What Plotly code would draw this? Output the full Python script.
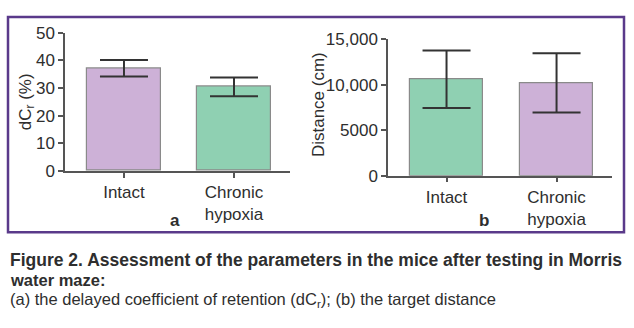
import plotly.graph_objects as go

W, H = 634, 328

categories = ["Intact", "Chronic<br>hypoxia"]
dcr_values = [37.1, 30.4]
dcr_errors = [3.0, 3.4]
dist_values = [10600, 10200]
dist_errors = [3150, 3250]

purple = "#cdb1d7"
green = "#8fd0b2"
font = "Liberation Sans, Arial, sans-serif"
txt = "#2e2e2e"

def px_x(p):
    return p / W

def px_y(p):
    return 1 - p / H

fig = go.Figure()

fig.add_trace(go.Bar(
    x=categories, y=dcr_values, xaxis="x", yaxis="y",
    marker=dict(color=[purple, green], line=dict(color="#8a8a8a", width=1.2)),
    width=0.673,
    error_y=dict(type="data", array=dcr_errors, color="#333333", thickness=2, width=24),
    showlegend=False,
))
fig.add_trace(go.Bar(
    x=categories, y=dist_values, xaxis="x2", yaxis="y2",
    marker=dict(color=[green, purple], line=dict(color="#8a8a8a", width=1.2)),
    width=0.664,
    error_y=dict(type="data", array=dist_errors, color="#333333", thickness=2, width=24),
    showlegend=False,
))

axis_common = dict(
    showgrid=False, zeroline=False, showline=True, linecolor="#555555", linewidth=1.5,
    ticks="outside", ticklen=5, tickwidth=1.5, tickcolor="#555555",
    tickfont=dict(family=font, size=17, color=txt),
)

fig.update_layout(
    width=W, height=H,
    margin=dict(l=0, r=0, t=0, b=0),
    paper_bgcolor="white", plot_bgcolor="white",
    bargap=0,
    xaxis=dict(domain=[px_x(65), px_x(290)], range=[-0.536, 1.509], anchor="y", **axis_common),
    yaxis=dict(domain=[px_y(172), px_y(25)], range=[0, 50], dtick=10, anchor="x", **axis_common),
    xaxis2=dict(domain=[px_x(388), px_x(612)], range=[-0.532, 1.504], anchor="y2", **axis_common),
    yaxis2=dict(domain=[px_y(177), px_y(32)], range=[0, 15000], anchor="x2",
                tickvals=[0, 5000, 10000, 15000], ticktext=["0", "5000", "10,000", "15,000"],
                **axis_common),
)

ann = []
ann.append(dict(text="dC<sub>r</sub> (%)", x=px_x(27), y=px_y(99), textangle=-90,
                font=dict(family=font, size=17, color=txt)))
ann.append(dict(text="Distance (cm)", x=px_x(318), y=px_y(102), textangle=-90,
                font=dict(family=font, size=17, color=txt)))
ann.append(dict(text="<b>a</b>", x=px_x(175), y=px_y(225),
                font=dict(family=font, size=17, color=txt)))
ann.append(dict(text="<b>b</b>", x=px_x(484), y=px_y(225),
                font=dict(family=font, size=17, color=txt)))
ann.append(dict(text="<b>Figure 2. Assessment of the parameters in the mice after testing in Morris</b>",
                x=px_x(8), y=px_y(266.5), xanchor="left",
                font=dict(family=font, size=17.5, color=txt)))
ann.append(dict(text="<b>water maze:</b>", x=px_x(8), y=px_y(287.5), xanchor="left",
                font=dict(family=font, size=16.5, color=txt)))
ann.append(dict(text="(a) the delayed coefficient of retention (dC<sub>r</sub>); (b) the target distance",
                x=px_x(8), y=px_y(308.5), xanchor="left",
                font=dict(family=font, size=16.5, color=txt)))
for a in ann:
    a.update(xref="paper", yref="paper", showarrow=False)
    a.setdefault("xanchor", "center")
    a.setdefault("yanchor", "middle")
fig.update_layout(annotations=ann)

fig.add_shape(type="rect", xref="paper", yref="paper",
              x0=px_x(8), x1=px_x(624), y0=px_y(237), y1=px_y(8.5),
              line=dict(color="#5a3a8a", width=2.5), fillcolor="rgba(0,0,0,0)", layer="below")

fig.write_html("out.html")
